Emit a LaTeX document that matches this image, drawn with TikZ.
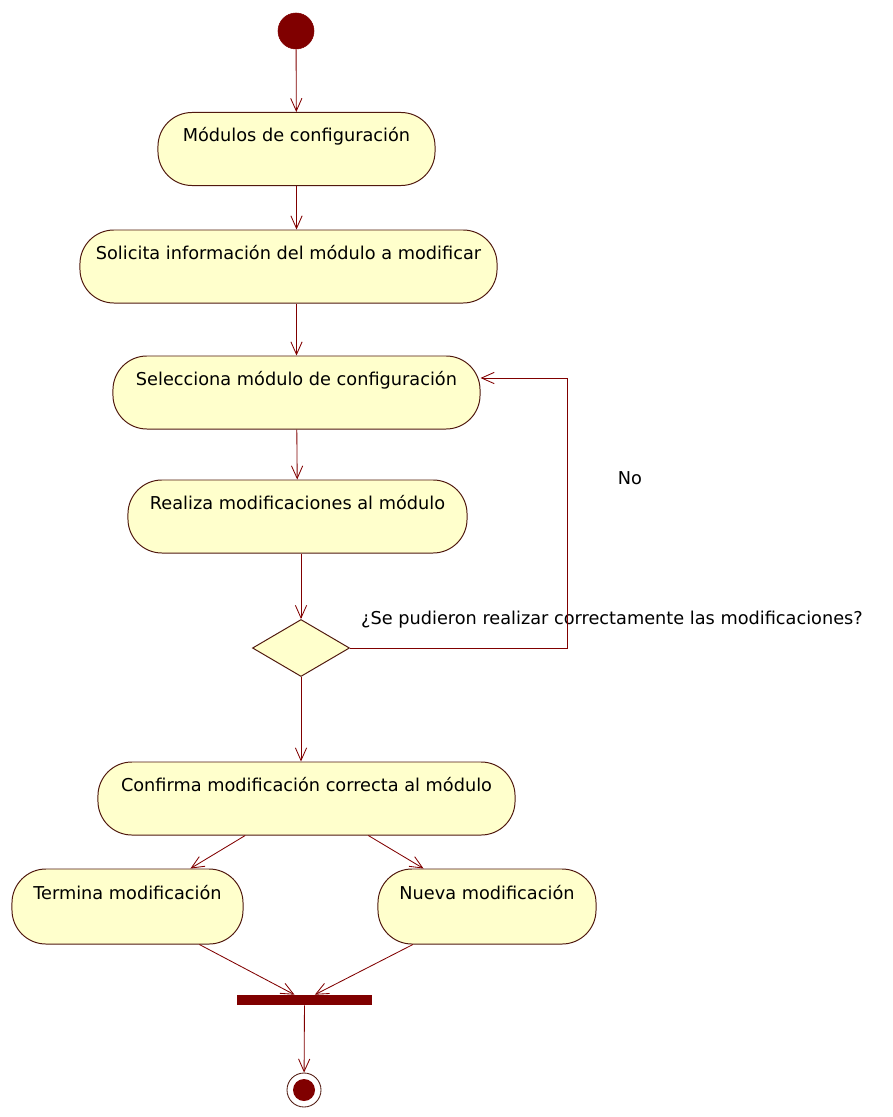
\documentclass[tikz,border=0pt]{standalone}
\usepackage{fontspec}
\setmainfont{DejaVu Sans}
\usepackage{tikz}
\usetikzlibrary{arrows.meta}
\usetikzlibrary{shapes.geometric}
\definecolor{actfill}{RGB}{255,255,204}
\definecolor{actline}{RGB}{80,25,15}
\definecolor{flow}{RGB}{128,0,0}
\tikzstyle{act} = [rectangle, rounded corners = .85cm, draw = actline, fill = actfill, line width = .7pt, font = \fontsize{12.6}{15}\selectfont, text height = 10pt, text depth = 20pt, minimum height = 1.825cm]
\tikzstyle{flw} = [draw = flow, line width = .6pt, -{Straight Barb[length = 9pt, width = 8pt]}]
\tikzstyle{lbl} = [draw = none, inner sep = 1, font = \fontsize{12.6}{15}\selectfont]

\begin{document}
\begin{tikzpicture}[x = .025cm, y = -.025cm]
\useasboundingbox (0, 0) rectangle (893, 1117);
% activities
\node [circle, draw = flow, fill = flow, minimum size = .9cm, inner sep = 0] (S) at (296, 31) {};
\node [act, minimum width = 6.925cm] (M) at (296.5, 149) {Módulos de configuración};
\node [act, minimum width = 10.425cm] (Sol) at (288.5, 266.5) {Solicita información del módulo a modificar};
\node [act, minimum width = 9.175cm] (Sel) at (296.5, 392.5) {Selecciona módulo de configuración};
\node [act, minimum width = 8.475cm] (R) at (297.5, 516.5) {Realiza modificaciones al módulo};
\node [diamond, draw = actline, fill = actfill, line width = .7pt, minimum width = 2.425cm, minimum height = 1.425cm, inner sep = 0] (D) at (301, 648) {};
\node [act, minimum width = 10.425cm] (C) at (306.5, 798.5) {Confirma modificación correcta al módulo};
\node [act, minimum width = 5.775cm, minimum height = 1.875cm] (T) at (127.5, 906.5) {Termina modificación};
\node [act, minimum width = 5.45cm, minimum height = 1.875cm] (N) at (487, 906.5) {Nueva modificación};
\node [rectangle, fill = flow, minimum width = 3.375cm, minimum height = .25cm, inner sep = 0] (B) at (304.5, 1000) {};
\node [circle, draw = actline, fill = white, line width = .6pt, minimum size = .85cm, inner sep = 0] (E) at (304, 1090) {};
\node [circle, fill = flow, minimum size = .55cm, inner sep = 0] (E1) at (304, 1090) {};
% guard texts
\node [lbl] (No) at (630, 478) {No};
\node [lbl] (Q) at (612, 620) {¿Se pudieron realizar correctamente las modificaciones?};
\coordinate (K) at (567, 378);
% flows
\draw [flw] (S) -- (M);
\draw [flw] (M.south) -- (M.south |- Sol.north);
\draw [flw] (M.south |- Sol.south) -- (M.south |- Sel.north);
\draw [flw] (Sel) -- (R);
\draw [flw] (D.north |- R.south) -- (D.north);
\draw [flw] (D.east) -| (K) -- (Sel.east |- K);
\draw [flw] (D.south) -- (D.south |- C.north);
\draw [flw] (C) -- (T);
\draw [flw] (C) -- (N);
\draw [flw] (T) -- (B);
\draw [flw] (N) -- (B);
\draw [flw] (B) -- (E);
\end{tikzpicture}
\end{document}
